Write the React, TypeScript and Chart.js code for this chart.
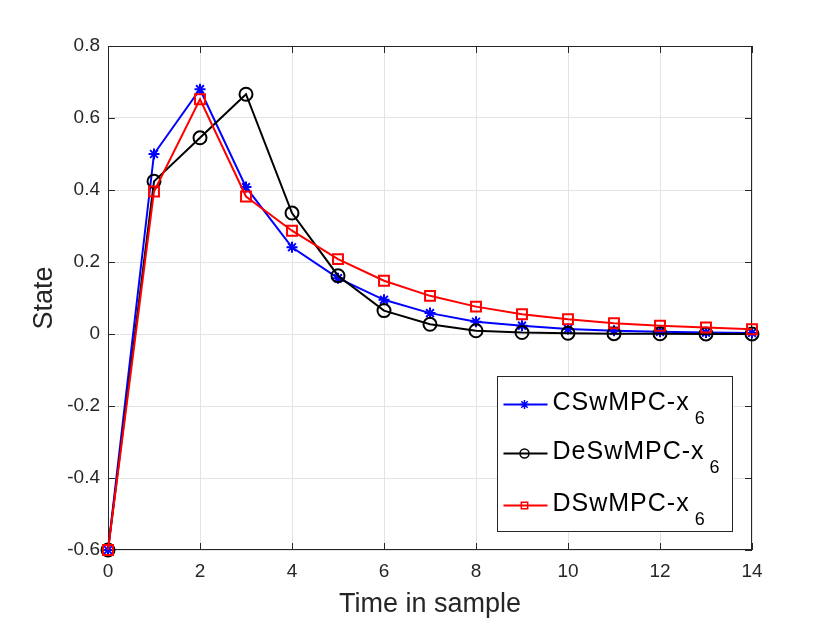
import { useEffect, useRef } from 'react';
import { Chart, registerables } from 'chart.js';
import { drawPoint } from 'chart.js/helpers';

Chart.register(...registerables);

// samples on the x axis
const samples = [0, 1, 2, 3, 4, 5, 6, 7, 8, 9, 10, 11, 12, 13, 14];

// state x6 for each controller
const cswmpc = [-0.6, 0.5, 0.68, 0.408, 0.241, 0.155, 0.095, 0.058, 0.034, 0.023, 0.014, 0.009, 0.006, 0.004, 0.003];
const deswmpc = [-0.6, 0.424, 0.545, 0.666, 0.336, 0.162, 0.065, 0.027, 0.009, 0.004, 0.002, 0.001, 0.0005, 0.0002, 0.0001];
const dswmpc = [-0.6, 0.396, 0.652, 0.382, 0.287, 0.208, 0.148, 0.106, 0.076, 0.055, 0.041, 0.03, 0.023, 0.018, 0.013];

const seriesNames = ['CSwMPC-x', 'DeSwMPC-x', 'DSwMPC-x'];
const seriesSub = '6';

const xTicks = [0, 2, 4, 6, 8, 10, 12, 14];
const yTicks = [-0.6, -0.4, -0.2, 0, 0.2, 0.4, 0.6, 0.8];
const yTickLabels = ['-0.6', '-0.4', '-0.2', '0', '0.2', '0.4', '0.6', '0.8'];

const FONT = '"Liberation Sans", Arial, Helvetica, sans-serif';
const AXIS_COLOR = '#262626';

// box around the axes with inward ticks on all four sides
const framePlugin = {
  id: 'frame',
  beforeDatasetsDraw(chart: any) {
    const { ctx, chartArea: a, scales } = chart;
    const len = 7;
    ctx.save();
    ctx.strokeStyle = AXIS_COLOR;
    ctx.lineWidth = 1;
    ctx.beginPath();
    for (const v of xTicks) {
      const px = Math.round(scales.x.getPixelForValue(v)) + 0.5;
      ctx.moveTo(px, a.bottom);
      ctx.lineTo(px, a.bottom - len);
      ctx.moveTo(px, a.top);
      ctx.lineTo(px, a.top + len);
    }
    for (const v of yTicks) {
      const py = Math.round(scales.y.getPixelForValue(v)) + 0.5;
      ctx.moveTo(a.left, py);
      ctx.lineTo(a.left + len, py);
      ctx.moveTo(a.right, py);
      ctx.lineTo(a.right - len, py);
    }
    ctx.stroke();
    ctx.strokeRect(Math.round(a.left) + 0.5, Math.round(a.top) + 0.5, Math.round(a.width) - 1, Math.round(a.height) - 1);
    ctx.restore();
  },
};

// legend box with subscripted labels, lower right inside the axes
const legendPlugin = {
  id: 'subLegend',
  afterDraw(chart: any) {
    const { ctx, chartArea: a } = chart;
    const w = 235;
    const h = 155;
    const left = Math.round(a.right - 20 - w) + 0.5;
    const top = Math.round(a.bottom - 19 - h) + 0.5;
    const rows = [28, 77, 129];
    ctx.save();
    ctx.fillStyle = '#ffffff';
    ctx.fillRect(left, top, w, h);
    ctx.strokeStyle = AXIS_COLOR;
    ctx.lineWidth = 1;
    ctx.strokeRect(left, top, w, h);

    chart.data.datasets.forEach((ds: any, i: number) => {
      const y = top + rows[i];
      ctx.strokeStyle = ds.borderColor;
      ctx.lineWidth = 2;
      ctx.beginPath();
      ctx.moveTo(left + 6, y);
      ctx.lineTo(left + 50, y);
      ctx.stroke();
      ctx.fillStyle = 'rgba(0,0,0,0)';
      ctx.lineWidth = 1.5;
      drawPoint(ctx, { pointStyle: ds.pointStyle, radius: 4.5, rotation: 0, borderWidth: 1.5 }, left + 27, y);

      ctx.fillStyle = '#000000';
      ctx.textAlign = 'left';
      ctx.textBaseline = 'alphabetic';
      (ctx as any).letterSpacing = '1px';
      ctx.font = `25px ${FONT}`;
      const name = seriesNames[i];
      ctx.fillText(name, left + 55, y + 5);
      const tw = ctx.measureText(name).width;
      ctx.font = `18px ${FONT}`;
      (ctx as any).letterSpacing = '0px';
      ctx.fillText(seriesSub, left + 55 + tw + 5, y + 19);
    });
    ctx.restore();
  },
};

export default function App() {
  const canvasRef = useRef<HTMLCanvasElement>(null);
  const chartRef = useRef<Chart | null>(null);

  useEffect(() => {
    document.body.style.margin = '0';
    if (!canvasRef.current) return;
    if (chartRef.current) chartRef.current.destroy();

    const toPoints = (vals: number[]) => samples.map((x, i) => ({ x, y: vals[i] }));

    chartRef.current = new Chart(canvasRef.current, {
      type: 'line',
      data: {
        datasets: [
          {
            label: seriesNames[0],
            data: toPoints(cswmpc),
            borderColor: '#0000ff',
            pointStyle: 'star',
            pointRadius: 5.5,
            pointBorderWidth: 2,
            pointBackgroundColor: 'rgba(0,0,0,0)',
            order: 3,
          },
          {
            label: seriesNames[1],
            data: toPoints(deswmpc),
            borderColor: '#000000',
            pointStyle: 'circle',
            pointRadius: 6.5,
            pointBorderWidth: 2,
            pointBackgroundColor: 'rgba(0,0,0,0)',
            order: 2,
          },
          {
            label: seriesNames[2],
            data: toPoints(dswmpc),
            borderColor: '#ff0000',
            pointStyle: 'rect',
            pointRadius: 7,
            pointBorderWidth: 2,
            pointBackgroundColor: 'rgba(0,0,0,0)',
            order: 1,
          },
        ].map((d) => ({ ...d, borderWidth: 2, tension: 0, fill: false, clip: false as any, pointBorderColor: d.borderColor })),
      },
      options: {
        responsive: false,
        animation: false,
        events: [],
        layout: { padding: { left: 0, right: 78, top: 46, bottom: 0 } },
        plugins: {
          legend: { display: false },
          tooltip: { enabled: false },
        },
        scales: {
          x: {
            type: 'linear',
            min: 0,
            max: 14,
            afterFit: (s: any) => {
              s.height = 73;
            },
            afterBuildTicks: (s: any) => {
              s.ticks = xTicks.map((value) => ({ value }));
            },
            grid: { color: '#e3e3e3', lineWidth: 1, drawTicks: false },
            border: { display: false },
            ticks: {
              padding: 10,
              color: AXIS_COLOR,
              font: { family: FONT, size: 19 },
              maxRotation: 0,
              callback: (v: any) => String(v),
            },
            title: {
              display: true,
              text: 'Time in sample',
              color: AXIS_COLOR,
              font: { family: FONT, size: 27 },
              padding: { top: 0, bottom: 2 },
            },
          },
          y: {
            type: 'linear',
            min: -0.6,
            max: 0.8,
            afterFit: (s: any) => {
              s.width = 108;
            },
            afterBuildTicks: (s: any) => {
              s.ticks = yTicks.map((value) => ({ value }));
            },
            grid: { color: '#e3e3e3', lineWidth: 1, drawTicks: false },
            border: { display: false },
            ticks: {
              padding: 8,
              color: AXIS_COLOR,
              font: { family: FONT, size: 19 },
              callback: (_v: any, i: number) => yTickLabels[i],
            },
            title: {
              display: true,
              text: 'State',
              color: AXIS_COLOR,
              font: { family: FONT, size: 27 },
              padding: { top: 28, bottom: 0 },
            },
          },
        },
      },
      plugins: [framePlugin, legendPlugin],
    });

    return () => {
      if (chartRef.current) {
        chartRef.current.destroy();
        chartRef.current = null;
      }
    };
  }, []);

  return (
    <div style={{ width: 830, height: 623, background: '#ffffff' }}>
      <canvas ref={canvasRef} width={830} height={623} />
    </div>
  );
}
